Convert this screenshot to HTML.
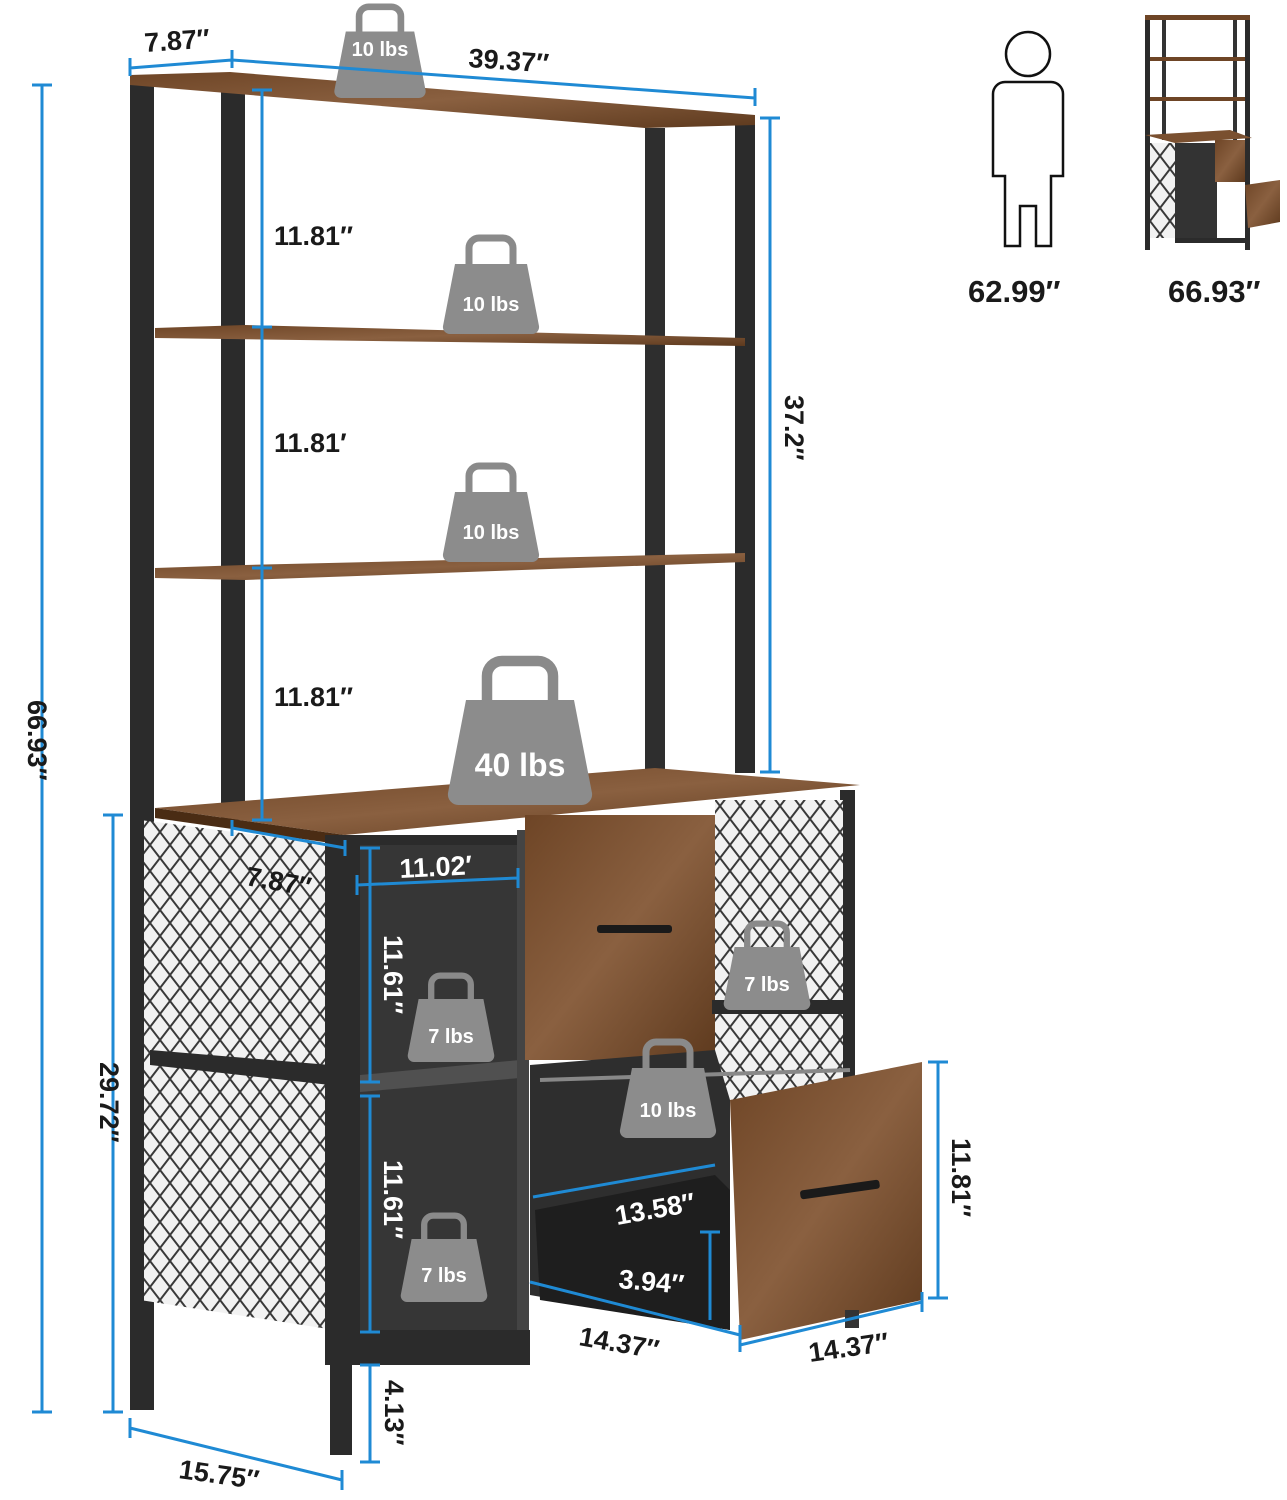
<!DOCTYPE html>
<html><head><meta charset="utf-8"><style>
html,body{margin:0;padding:0;background:#fff}
svg{display:block}
text{font-family:"Liberation Sans",sans-serif;font-weight:bold;fill:#1a1a1a}
.d{font-size:27px}
.wh{fill:#fff}
.w{fill:#fff;font-size:20px}
</style></head><body>
<svg width="1287" height="1500" viewBox="0 0 1287 1500" xmlns="http://www.w3.org/2000/svg">
<defs>
<pattern id="mesh" width="20" height="26" patternUnits="userSpaceOnUse">
<rect width="20" height="26" fill="#f2f2f2"/>
<path d="M0 0L20 26M20 0L0 26" stroke="#3a3a3a" stroke-width="2"/>
</pattern>
<linearGradient id="wood" x1="0" x2="1" y1="0" y2="1">
<stop offset="0" stop-color="#6e4526"/><stop offset="0.5" stop-color="#8a6040"/><stop offset="1" stop-color="#5e3a1e"/>
</linearGradient>
<g id="wt"><path d="M-22 -30 v-16 a10 10 0 0 1 10 -10 h24 a10 10 0 0 1 10 10 v16" fill="none" stroke="#8a8a8a" stroke-width="7"/>
<path d="M-36 -30 h72 l12 62 a7 7 0 0 1 -7 8 h-82 a7 7 0 0 1 -7 -8z" fill="#8c8c8c"/></g>
</defs>

<!-- posts -->
<rect x="130" y="85" width="24" height="1325" fill="#2b2b2b"/>
<rect x="221" y="85" width="24" height="735" fill="#2b2b2b"/>
<rect x="645" y="128" width="20" height="645" fill="#2e2e2e"/>
<rect x="735" y="118" width="20" height="655" fill="#2b2b2b"/>
<rect x="330" y="1360" width="22" height="95" fill="#2b2b2b"/>
<!-- shelves -->
<polygon points="130,75 230,72 755,115 755,125 645,128 130,85" fill="url(#wood)"/>
<polygon points="155,328 245,325 745,338 745,346 155,338" fill="url(#wood)"/>
<polygon points="155,568 245,565 745,553 745,562 245,580 155,578" fill="url(#wood)"/>
<!-- cabinet top -->
<polygon points="155,808 655,768 860,785 345,835" fill="url(#wood)"/>
<polygon points="155,808 345,835 345,845 155,818" fill="#4a2c14"/>
<!-- left side mesh -->
<polygon points="140,820 335,845 335,1330 140,1300" fill="url(#mesh)"/>
<rect x="130" y="815" width="14" height="595" fill="#2b2b2b"/>
<rect x="325" y="835" width="20" height="530" fill="#2b2b2b"/>
<polygon points="150,1050 330,1065 330,1085 150,1065" fill="#2b2b2b"/>
<!-- front frame -->
<rect x="345" y="835" width="185" height="20" fill="#2b2b2b"/>
<rect x="345" y="835" width="15" height="530" fill="#2b2b2b"/>
<rect x="840" y="790" width="15" height="300" fill="#2b2b2b"/>
<rect x="360" y="845" width="160" height="490" fill="#363636"/>
<polygon points="360,1075 520,1060 520,1078 360,1092" fill="#505050"/>
<rect x="345" y="1330" width="185" height="35" fill="#2b2b2b"/>
<rect x="517" y="830" width="12" height="500" fill="#444"/>
<!-- top drawer -->
<rect x="525" y="815" width="190" height="245" fill="url(#wood)"/>
<rect x="597" y="925" width="75" height="8" rx="3" fill="#1a1a1a"/>
<!-- right mesh -->
<rect x="715" y="800" width="128" height="300" fill="url(#mesh)"/>
<rect x="712" y="1000" width="135" height="14" fill="#2b2b2b"/>
<!-- pulled drawer box -->
<polygon points="530,1065 715,1050 730,1100 730,1330 530,1295" fill="#2e2e2e"/>
<polygon points="535,1210 715,1175 730,1190 730,1330 540,1300" fill="#1e1e1e"/>
<line x1="540" y1="1080" x2="850" y2="1070" stroke="#888" stroke-width="4"/>
<!-- drawer front -->
<polygon points="730,1100 922,1062 922,1300 740,1340" fill="url(#wood)"/>
<rect x="800" y="1185" width="80" height="9" rx="3" fill="#1a1a1a" transform="rotate(-8 840 1190)"/>
<rect x="845" y="1310" width="14" height="18" fill="#333"/>

<!-- weights -->
<use href="#wt" transform="translate(380,60) scale(0.95)"/><text class="w" x="380" y="56" text-anchor="middle">10 lbs</text>
<use href="#wt" transform="translate(491,294)"/><text class="w" x="491" y="311" text-anchor="middle">10 lbs</text>
<use href="#wt" transform="translate(491,522)"/><text class="w" x="491" y="539" text-anchor="middle">10 lbs</text>
<use href="#wt" transform="translate(520,745) scale(1.5)"/><text class="w" x="520" y="776" text-anchor="middle" style="font-size:32px">40 lbs</text>
<use href="#wt" transform="translate(451,1026) scale(0.9)"/><text class="w" x="451" y="1043" text-anchor="middle">7 lbs</text>
<use href="#wt" transform="translate(767,974) scale(0.9)"/><text class="w" x="767" y="991" text-anchor="middle">7 lbs</text>
<use href="#wt" transform="translate(668,1098)"/><text class="w" x="668" y="1117" text-anchor="middle">10 lbs</text>
<use href="#wt" transform="translate(444,1266) scale(0.9)"/><text class="w" x="444" y="1282" text-anchor="middle">7 lbs</text>

<!-- blue dims -->
<g stroke="#1f8ad4" stroke-width="3" fill="none">
<path d="M42 85V1412M32 85H52M32 1412H52"/>
<path d="M113 815V1412M103 815H123M103 1412H123"/>
<path d="M130 68L232 60M130 58V76M232 50V68"/>
<path d="M232 60L755 98M755 88V106"/>
<path d="M262 90V820M252 90H272M252 327H272M252 568H272M252 820H272"/>
<path d="M770 118V772M760 118H780M760 772H780"/>
<path d="M232 828L345 848M232 820V836M345 840V856"/>
<path d="M357 885L518 878M357 875V895M518 868V888"/>
<path d="M370 848V1082M360 848H380M360 1082H380"/>
<path d="M370 1096V1332M360 1096H380M360 1332H380"/>
<path d="M533 1197L715 1165"/>
<path d="M710 1232V1320M700 1232H720"/>
<path d="M530 1282L740 1335M740 1325V1352"/>
<path d="M740 1345L922 1302M922 1292V1312"/>
<path d="M938 1062V1298M928 1062H948M928 1298H948"/>
<path d="M370 1365V1462M360 1365H380M360 1462H380"/>
<path d="M130 1428L342 1480M130 1418V1438M342 1470V1490"/>
</g>

<!-- dim labels -->
<text class="d" x="145" y="52" transform="rotate(-4 145 52)">7.87″</text>
<text class="d" x="468" y="67" transform="rotate(4 468 67)">39.37″</text>
<text class="d" x="274" y="245">11.81″</text>
<text class="d" x="274" y="452">11.81′</text>
<text class="d" x="274" y="706">11.81″</text>
<text class="d" x="785" y="395" transform="rotate(90 785 395)">37.2″</text>
<text class="d" x="28" y="700" transform="rotate(90 28 700)">66.93″</text>
<text class="d" x="100" y="1062" transform="rotate(90 100 1062)">29.72″</text>
<text class="d" x="245" y="885" transform="rotate(10 245 885)">7.87″</text>
<text class="d wh" x="400" y="878" transform="rotate(-3 400 878)">11.02′</text>
<text class="d wh" x="384" y="935" transform="rotate(90 384 935)">11.61″</text>
<text class="d wh" x="384" y="1160" transform="rotate(90 384 1160)">11.61″</text>
<text class="d wh" x="617" y="1225" transform="rotate(-10 617 1225)">13.58″</text>
<text class="d wh" x="618" y="1288" transform="rotate(5 618 1288)">3.94″</text>
<text class="d" x="578" y="1345" transform="rotate(10 578 1345)">14.37″</text>
<text class="d" x="810" y="1362" transform="rotate(-8 810 1362)">14.37″</text>
<text class="d" x="952" y="1138" transform="rotate(90 952 1138)">11.81″</text>
<text class="d" x="385" y="1380" transform="rotate(90 385 1380)">4.13″</text>
<text class="d" x="178" y="1478" transform="rotate(8 178 1478)">15.75″</text>
<text class="d" x="968" y="302" style="font-size:31px">62.99″</text>
<text class="d" x="1168" y="302" style="font-size:31px">66.93″</text>

<!-- person -->
<g fill="none" stroke="#111" stroke-width="2.5">
<circle cx="1028" cy="54" r="22"/>
<path d="M1005 82h46a12 12 0 0 1 12 12v82h-12v70h-15v-40h-16v40h-15v-70h-12v-82a12 12 0 0 1 12 -12z"/>
</g>
<!-- mini shelf -->
<g>
<rect x="1145" y="15" width="5" height="235" fill="#2b2b2b"/>
<rect x="1162" y="20" width="4" height="120" fill="#333"/>
<rect x="1233" y="20" width="4" height="120" fill="#333"/>
<rect x="1245" y="18" width="5" height="232" fill="#2b2b2b"/>
<rect x="1145" y="15" width="105" height="5" fill="#6e4526"/>
<rect x="1150" y="57" width="95" height="4" fill="#6e4526"/>
<rect x="1150" y="97" width="95" height="4" fill="#6e4526"/>
<polygon points="1145,135 1230,130 1252,138 1175,143" fill="#7a5030"/>
<rect x="1150" y="143" width="25" height="95" fill="url(#mesh)"/>
<rect x="1175" y="143" width="42" height="97" fill="#333"/>
<rect x="1215" y="140" width="30" height="42" fill="url(#wood)"/>
<polygon points="1245,185 1280,180 1280,222 1248,228" fill="url(#wood)"/>
<rect x="1175" y="238" width="75" height="5" fill="#2b2b2b"/>
</g>
</svg>
</body></html>
